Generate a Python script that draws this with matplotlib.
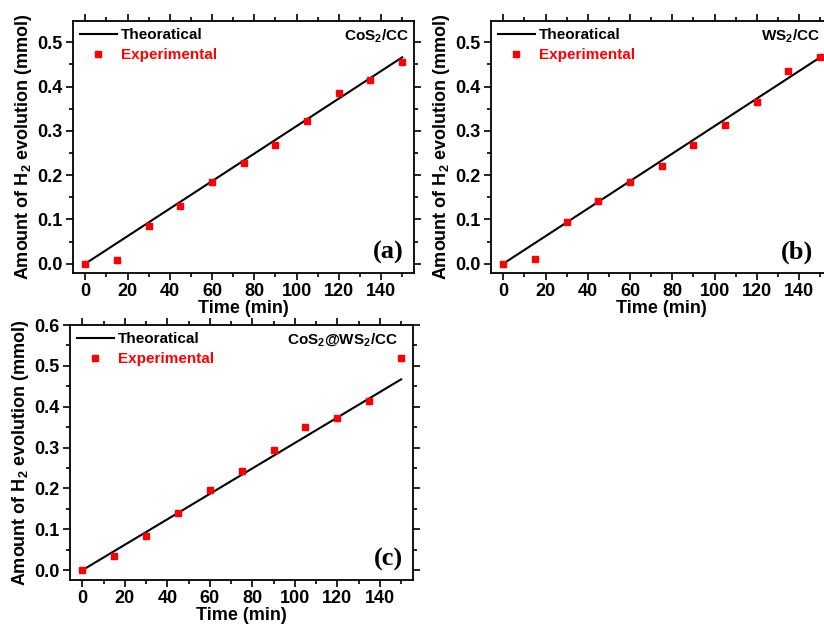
import numpy as np
import matplotlib.pyplot as plt
from matplotlib.ticker import MultipleLocator

plt.rcParams['font.family'] = ['Liberation Sans', 'DejaVu Sans']
plt.rcParams['font.weight'] = 'bold'
plt.rcParams['mathtext.fontset'] = 'custom'
plt.rcParams['mathtext.rm'] = 'Liberation Sans:bold'
plt.rcParams['mathtext.bf'] = 'Liberation Sans:bold'

time_min = [0, 15, 30, 45, 60, 75, 90, 105, 120, 135, 150]
theory_time = [0, 150]

theory_a = [0.0, 0.466]
exp_a = [0.0, 0.0075, 0.086, 0.130, 0.185, 0.227, 0.269, 0.322, 0.385, 0.415, 0.456]

theory_b = [0.0, 0.466]
exp_b = [0.0, 0.011, 0.095, 0.141, 0.184, 0.221, 0.269, 0.313, 0.366, 0.435, 0.466]

theory_c = [0.0, 0.467]
exp_c = [0.0, 0.034, 0.084, 0.140, 0.197, 0.243, 0.295, 0.351, 0.373, 0.415, 0.519]

names = [r'CoS$_2$/CC', r'WS$_2$/CC', r'CoS$_2$@WS$_2$/CC']
tags = ['(a)', '(b)', '(c)']

W, H = 824, 625
fig = plt.figure(figsize=(W / 100, H / 100), dpi=100)


def make_axes(left, top, right, bottom):
    return fig.add_axes([left / W, 1 - bottom / H, (right - left) / W, (bottom - top) / H])


def draw_panel(ax, theory, exp, name, tag, ylim, ymax_tick, name_x=0.985, tag_x=0.97):
    ax.plot(theory_time, theory, color='black', lw=1.5, label='Theoratical')
    ax.plot(time_min, exp, 's', color='red', ms=4.6, mec='red', ls='none',
            label='Experimental')
    ax.set_xlim(-5.8, 155.6)
    ax.set_ylim(*ylim)
    ax.set_xticks(np.arange(0, 141, 20))
    ax.set_yticks(np.arange(0, ymax_tick + 0.01, 0.1))
    ax.yaxis.set_major_formatter(plt.FormatStrFormatter('%.1f'))
    ax.xaxis.set_minor_locator(MultipleLocator(10))
    ax.yaxis.set_minor_locator(MultipleLocator(0.05))
    ax.tick_params(which='both', direction='out', top=True, right=True,
                   labelsize=13, width=1.2, pad=2.5)
    ax.tick_params(which='major', length=5)
    ax.tick_params(which='minor', length=3)
    for sp in ax.spines.values():
        sp.set_linewidth(1.3)
    for lab in ax.get_xticklabels() + ax.get_yticklabels():
        lab.set_fontweight('bold')
    ax.set_xlabel('Time (min)', fontsize=13, fontweight='bold', labelpad=0)
    ax.set_ylabel(r'Amount of H$_2$ evolution (mmol)', fontsize=13,
                  fontweight='bold', labelpad=2)
    leg = ax.legend(loc='upper left', frameon=False, fontsize=11,
                    handlelength=2.4, handletextpad=0.3, borderaxespad=0.25,
                    borderpad=0.2, labelspacing=0.4, markerscale=1.0,
                    labelcolor=['black', 'red'])
    for t in leg.get_texts():
        t.set_fontweight('bold')
    ax.text(name_x, 0.975, name, transform=ax.transAxes, ha='right', va='top',
            fontsize=11, fontweight='bold')
    ax.text(tag_x, 0.035, tag, transform=ax.transAxes, ha='right', va='bottom',
            fontsize=19, fontweight='bold', family='Liberation Serif')


ax_a = make_axes(73, 21, 414, 273)
ax_b = make_axes(491, 21, 832, 273)
ax_c = make_axes(70, 325, 413, 580)

draw_panel(ax_a, theory_a, exp_a, names[0], tags[0], (-0.021, 0.548), 0.5)
draw_panel(ax_b, theory_b, exp_b, names[1], tags[1], (-0.021, 0.548), 0.5,
           name_x=0.965, tag_x=0.945)
draw_panel(ax_c, theory_c, exp_c, names[2], tags[2], (-0.024, 0.6), 0.6,
           name_x=0.955)

fig.savefig('out.png', dpi=100)
